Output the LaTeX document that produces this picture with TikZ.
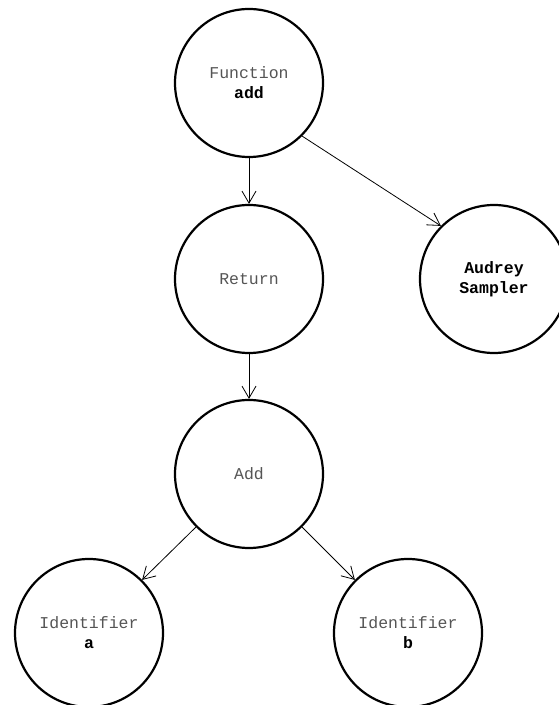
\documentclass[tikz,border=0pt]{standalone}
\usepackage{fontspec}
\setmonofont{Liberation Mono}
\usepackage{tikz}
\usetikzlibrary{arrows.meta,positioning}

\definecolor{labelgray}{HTML}{555555}

\begin{document}
\begin{tikzpicture}[x=1pt,y=1pt,
    astnode/.style={draw=black,circle,line width=2.2pt,minimum size=148pt,inner sep=0pt,
      align=center,text=labelgray,font=\ttfamily\fontsize{16.5}{20}\selectfont},
    edge/.style={->,line width=0.8pt,>={Straight Barb[length=12pt,width=14pt]}}]
                      \useasboundingbox (0,0) rectangle (559,705);

                      \node[astnode] (fn)  at (249,622) {Function\\\textcolor{black}{\bfseries add}};
                      \node[astnode] (ret) at (249,426) {Return};
                      \node[astnode] (aud) at (494,426) {\textcolor{black}{\bfseries Audrey}\\\textcolor{black}{\bfseries Sampler}};
                      \node[astnode] (add) at (249,231) {Add};
                      \node[astnode] (ida) at (89,72)   {Identifier\\\textcolor{black}{\bfseries a}};
                      \node[astnode] (idb) at (408,72)  {Identifier\\\textcolor{black}{\bfseries b}};

                      \draw[edge] (fn) -- (ret);
                      \draw[edge] (fn.-45) -- (aud.135);
                      \draw[edge] (ret) -- (add);
                      \draw[edge] (add.-135) -- (ida.45);
                      \draw[edge] (add.-45) -- (idb.135);
                    \end{tikzpicture}
\end{document}
